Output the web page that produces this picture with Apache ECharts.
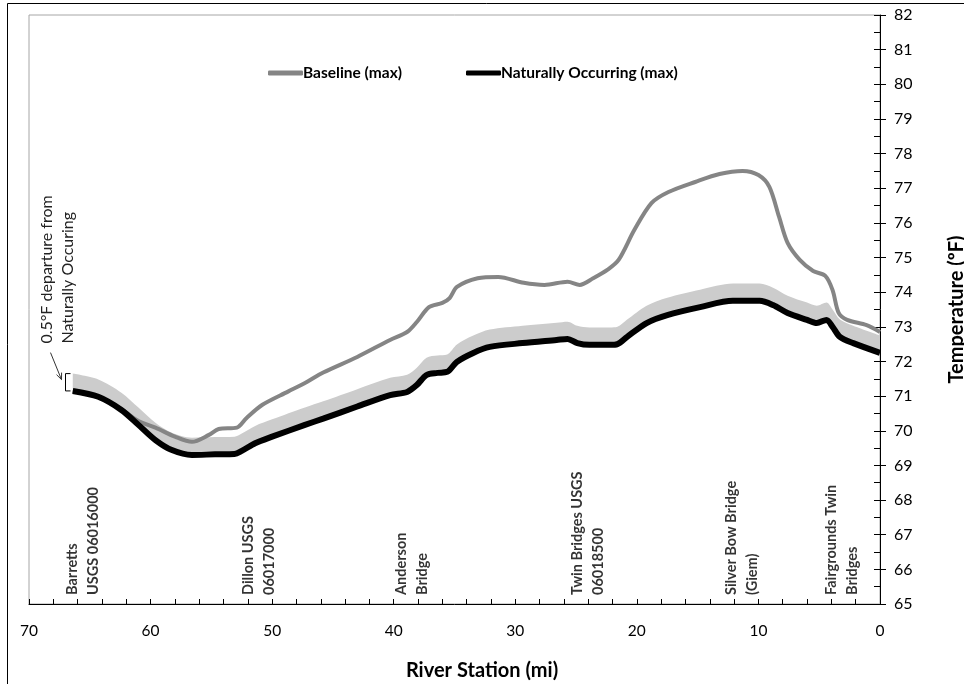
<!DOCTYPE html>
<html>
<head>
<meta charset="utf-8">
<script src="https://cdn.jsdelivr.net/npm/echarts@6/dist/echarts.min.js"></script>
<style>
  html, body { margin: 0; padding: 0; background: #fff; }
  #chart { width: 964px; height: 684px; }
</style>
</head>
<body>
<div id="chart"></div>
<script>
// Maximum stream temperature (°F) along the river, by river station (mi)
const naturalMiles = [66.4, 64.3, 62.4, 61.0, 59.6, 58.3, 56.6, 54.7, 53.1, 52.5, 51.4, 50.0, 47.3, 45.8, 43.0,
  40.3, 38.9, 38.1, 37.3, 36.4, 35.6, 34.8, 33.5, 32.1, 29.4, 26.6, 25.7, 24.9, 23.9, 22.2, 21.6, 20.8,
  19.2, 17.5, 14.8, 12.1, 9.9, 8.8, 7.6, 6.0, 5.2, 4.4, 3.9, 3.3, 2.2, 0.0];
const naturalTemps = [71.15, 70.98, 70.60, 70.17, 69.73, 69.45, 69.30, 69.32, 69.33, 69.42, 69.64, 69.83, 70.17, 70.35, 70.70,
  71.03, 71.12, 71.32, 71.61, 71.67, 71.70, 71.99, 72.24, 72.42, 72.53, 72.62, 72.65, 72.53, 72.48, 72.48, 72.50, 72.71,
  73.11, 73.34, 73.57, 73.75, 73.75, 73.63, 73.40, 73.20, 73.11, 73.20, 73.00, 72.71, 72.53, 72.25];

const baselineMiles = [66.4, 64.3, 62.4, 61.0, 59.6, 58.0, 56.6, 55.2, 54.4, 52.9, 52.1, 50.8, 48.7, 47.3, 45.8, 43.0,
  40.3, 38.9, 38.1, 37.1, 36.0, 35.4, 34.8, 33.1, 31.4, 29.3, 27.6, 25.7, 24.7, 23.6, 22.4, 21.5, 20.2,
  18.8, 17.4, 15.2, 13.2, 11.3, 10.0, 9.1, 8.3, 7.6, 6.6, 5.5, 4.5, 3.9, 3.4, 2.7, 1.1, 0.0];
const baselineTemps = [71.15, 70.98, 70.62, 70.28, 70.09, 69.83, 69.68, 69.88, 70.05, 70.09, 70.37, 70.75, 71.13, 71.38, 71.68, 72.13,
  72.62, 72.85, 73.14, 73.57, 73.69, 73.83, 74.15, 74.40, 74.44, 74.27, 74.21, 74.30, 74.21, 74.40, 74.65, 74.93, 75.80,
  76.57, 76.89, 77.18, 77.41, 77.50, 77.38, 77.04, 76.17, 75.42, 74.93, 74.61, 74.47, 74.06, 73.40, 73.20, 73.05, 72.85];

// Allowed departure above naturally occurring temperature (°F)
const departure = 0.5;

// Gauges and bridges along the reach
const stationMiles = [65.6, 51.1, 38.5, 24.0, 11.35, 3.1];
const stationNames = [
  'Barretts\nUSGS 06016000',
  'Dillon USGS\n06017000',
  'Anderson\nBridge',
  'Twin Bridges USGS\n06018500',
  'Silver Bow Bridge\n(Giem)',
  'Fairgrounds Twin\nBridges'
];

// Axis ranges
const mileRange = [0, 70, 10];
const tempRange = [65, 82, 1];

const FONT = 'Lato, "Liberation Sans", sans-serif';
const SMOOTH = 0.3;
// Band rows are stored as [temperature, mile] so the temperature dimension is the one stacked
const bandRows = (temps) => naturalMiles.map((m, i) => [temps[i], m]);

const option = {
  animation: false,
  backgroundColor: '#fff',
  grid: {
    left: 29, right: 84, top: 15, bottom: 80,
    outerBoundsMode: 'none', containLabel: false,
    show: true, borderColor: '#a6a6a6', borderWidth: 1
  },
  legend: {
    left: 268, top: 65, padding: 0,
    itemWidth: 35, itemHeight: 5, itemGap: 64,
    textStyle: { fontFamily: FONT, fontWeight: 'bold', fontSize: 15.5, color: '#000', padding: [0, 0, 0, -5] },
    data: [
      { name: 'Baseline (max)', icon: 'roundRect', itemStyle: { color: '#858585' } },
      { name: 'Naturally Occurring (max)', icon: 'roundRect', itemStyle: { color: '#000' } }
    ]
  },
  xAxis: {
    type: 'value', inverse: true,
    min: mileRange[0], max: mileRange[1], interval: mileRange[2],
    name: 'River Station (mi)', nameLocation: 'middle', nameGap: 57,
    nameTextStyle: { fontFamily: FONT, fontWeight: 'bold', fontSize: 20, color: '#000', padding: [0, 0, 0, 55] },
    axisLine: { lineStyle: { color: '#000', width: 1 } },
    axisTick: { inside: true, length: 5, lineStyle: { color: '#000' } },
    minorTick: { show: true, splitNumber: 5, length: 5, lineStyle: { color: '#000' } },
    axisLabel: { fontFamily: FONT, fontSize: 15.5, color: '#000', margin: 19 },
    splitLine: { show: false }
  },
  yAxis: [
    {
      type: 'value', position: 'right',
      min: tempRange[0], max: tempRange[1], interval: tempRange[2],
      name: 'Temperature (ºF)', nameLocation: 'middle', nameRotate: 90, nameGap: 67,
      nameTextStyle: { fontFamily: FONT, fontWeight: 'bold', fontSize: 20, color: '#000' },
      axisLine: { show: true, lineStyle: { color: '#000', width: 1 } },
      axisTick: { show: true, inside: false, length: 6, lineStyle: { color: '#000' } },
      axisLabel: { fontFamily: FONT, fontSize: 16, color: '#000', margin: 14 },
      splitLine: { show: false }
    },
    {
      type: 'value', position: 'right',
      min: tempRange[0], max: tempRange[1], interval: tempRange[2],
      axisLine: { show: false },
      axisTick: { show: true, inside: true, length: 6, lineStyle: { color: '#000' } },
      minorTick: { show: true, splitNumber: 2, length: 6, lineStyle: { color: '#000' } },
      axisLabel: { show: false },
      splitLine: { show: false }
    }
  ],
  series: [
    {
      name: 'band-base', type: 'line', stack: 'departure', silent: true,
      data: bandRows(naturalTemps), encode: { x: 1, y: 0 },
      symbol: 'none', smooth: SMOOTH, lineStyle: { width: 0, opacity: 0 }
    },
    {
      name: 'band', type: 'line', stack: 'departure', silent: true,
      data: bandRows(naturalTemps.map(() => departure)), encode: { x: 1, y: 0 },
      symbol: 'none', smooth: SMOOTH, lineStyle: { width: 0, opacity: 0 },
      areaStyle: { color: '#cccccc', opacity: 1 }
    },
    {
      name: 'Baseline (max)', type: 'line',
      data: baselineMiles.map((m, i) => [m, baselineTemps[i]]),
      symbol: 'none', smooth: SMOOTH,
      lineStyle: { color: '#858585', width: 4 }, itemStyle: { color: '#858585' }
    },
    {
      name: 'Naturally Occurring (max)', type: 'line',
      data: naturalMiles.map((m, i) => [m, naturalTemps[i]]),
      symbol: 'none', smooth: SMOOTH,
      lineStyle: { color: '#000', width: 6 }, itemStyle: { color: '#000' }
    },
    {
      name: 'stations', type: 'scatter', silent: true, clip: false,
      data: stationMiles.map((m, i) => ({ value: [m, tempRange[0]], name: stationNames[i] })),
      symbolSize: 2, itemStyle: { color: 'rgba(0,0,0,0)' },
      label: {
        show: true, formatter: p => p.name, position: 'inside', offset: [9, 0],
        rotate: 90, align: 'left', verticalAlign: 'middle',
        fontFamily: FONT, fontWeight: 'bold', fontSize: 14.5, lineHeight: 21, color: '#000'
      }
    }
  ]
};

const chart = echarts.init(document.getElementById('chart'), null, { renderer: 'canvas' });
chart.setOption(option);

// Bracket marking the 0.5 °F departure at the upstream end, with its note
const bracketMile = 67.0;
const pTop = chart.convertToPixel({ xAxisIndex: 0, yAxisIndex: 0 }, [bracketMile, naturalTemps[0] + departure]);
const pBot = chart.convertToPixel({ xAxisIndex: 0, yAxisIndex: 0 }, [bracketMile, naturalTemps[0]]);
const bx = Math.round(pTop[0]) + 0.5;
const tip = [bx - 4, pTop[1] + 6];
const tail = [bx - 15, pTop[1] - 21];
const ang = Math.atan2(tip[1] - tail[1], tip[0] - tail[0]);
const head = 7;

chart.setOption({
  graphic: [
    {
      type: 'rect', silent: true,
      shape: { x: 7.5, y: 3.5, width: 2000, height: 2000 },
      style: { fill: 'none', stroke: '#000', lineWidth: 1 }
    },
    {
      type: 'polyline', silent: true,
      shape: { points: [[bx + 5, pTop[1]], [bx, pTop[1]], [bx, pBot[1]], [bx + 5, pBot[1]]] },
      style: { fill: 'none', stroke: '#000', lineWidth: 1 }
    },
    {
      type: 'polyline', silent: true,
      shape: { points: [tail, tip] },
      style: { fill: 'none', stroke: '#333', lineWidth: 1 }
    },
    {
      type: 'polyline', silent: true,
      shape: { points: [
        [tip[0] - head * Math.cos(ang - 0.4), tip[1] - head * Math.sin(ang - 0.4)],
        tip,
        [tip[0] - head * Math.cos(ang + 0.4), tip[1] - head * Math.sin(ang + 0.4)]
      ] },
      style: { fill: 'none', stroke: '#333', lineWidth: 1 }
    },
    {
      type: 'text', silent: true,
      x: bx - 8, y: pTop[1] - 30, rotation: Math.PI / 2,
      style: {
        text: '0.5°F departure from\nNaturally Occuring',
        align: 'left', verticalAlign: 'middle',
        font: '16px ' + FONT, lineHeight: 21, fill: '#222'
      }
    }
  ]
});
</script>
</body>
</html>
